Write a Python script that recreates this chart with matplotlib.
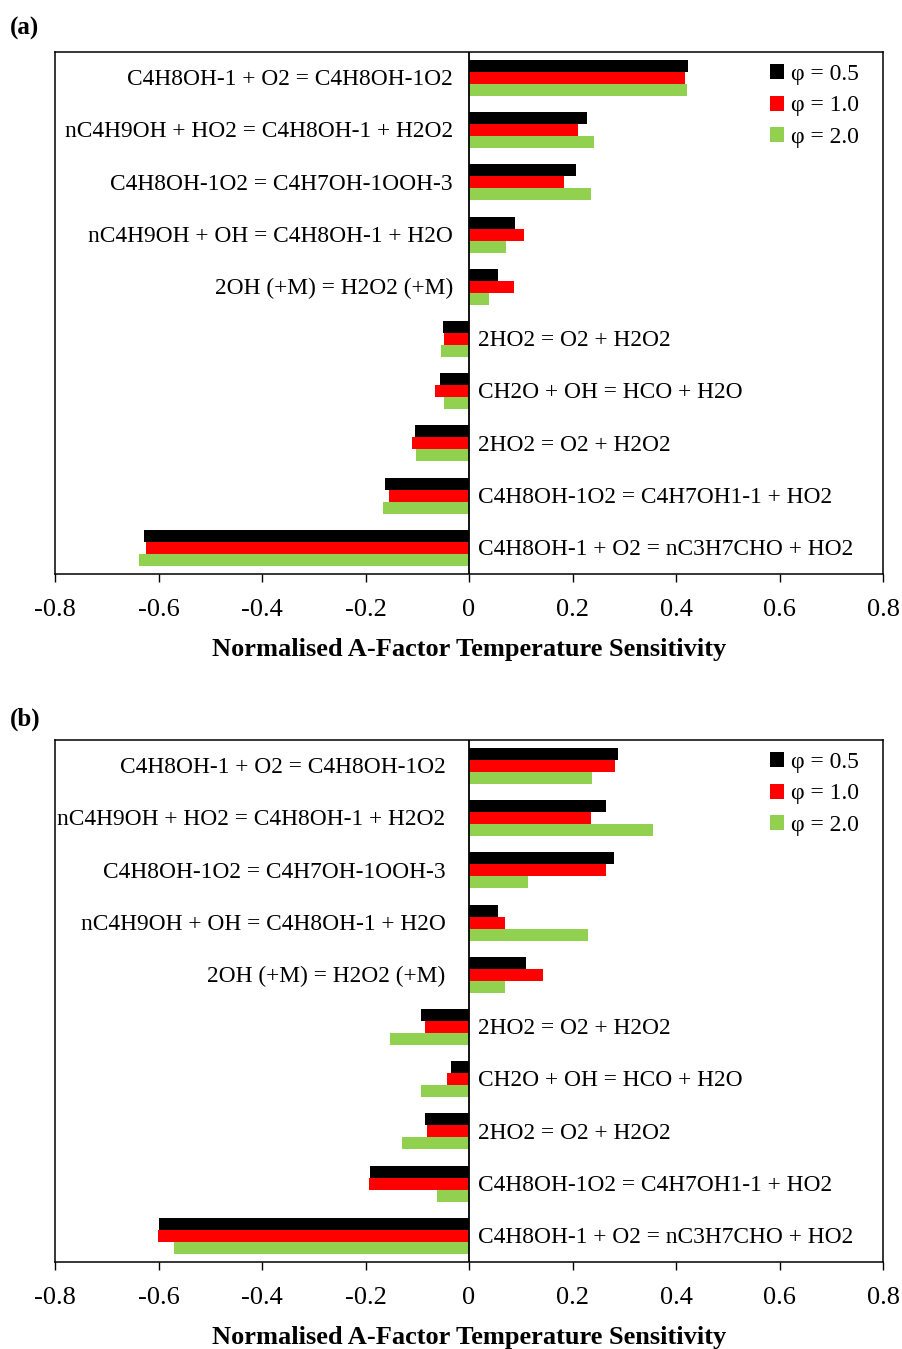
"""Normalised A-factor temperature sensitivity, two panels (a) and (b)."""
import matplotlib
matplotlib.use("Agg")
import matplotlib.pyplot as plt
import numpy as np

plt.rcParams["font.family"] = ["Liberation Serif", "DejaVu Serif"]

REACTIONS = [
    "C4H8OH-1 + O2 = C4H8OH-1O2",
    "nC4H9OH + HO2 = C4H8OH-1 + H2O2",
    "C4H8OH-1O2 = C4H7OH-1OOH-3",
    "nC4H9OH + OH = C4H8OH-1 + H2O",
    "2OH (+M) = H2O2 (+M)",
    "2HO2 = O2 + H2O2",
    "CH2O + OH = HCO + H2O",
    "2HO2 = O2 + H2O2",
    "C4H8OH-1O2 = C4H7OH1-1 + HO2",
    "C4H8OH-1 + O2 = nC3H7CHO + HO2",
]
SERIES = ["φ = 0.5", "φ = 1.0", "φ = 2.0"]

# panel (a)
a_phi05 = [0.424, 0.227, 0.207, 0.088, 0.055, -0.051, -0.057, -0.104, -0.162, -0.629]
a_phi10 = [0.417, 0.211, 0.184, 0.106, 0.086, -0.048, -0.066, -0.110, -0.155, -0.624]
a_phi20 = [0.421, 0.242, 0.236, 0.071, 0.039, -0.055, -0.048, -0.102, -0.166, -0.637]

# panel (b)
b_phi05 = [0.287, 0.264, 0.280, 0.056, 0.110, -0.093, -0.034, -0.085, -0.191, -0.600]
b_phi10 = [0.283, 0.236, 0.264, 0.070, 0.143, -0.086, -0.043, -0.082, -0.193, -0.601]
b_phi20 = [0.238, 0.356, 0.113, 0.230, 0.070, -0.153, -0.093, -0.130, -0.061, -0.571]

COLORS = ["#000000", "#FF0000", "#92D050"]
FS = 16.8
BAR_H = 0.23

fig = plt.figure(figsize=(9.02, 13.49), dpi=100)
panels = [
    ("(a)", [a_phi05, a_phi10, a_phi20], [0.061, 0.5745, 0.918, 0.387], 0.979, -11.5),
    ("(b)", [b_phi05, b_phi10, b_phi20], [0.061, 0.0645, 0.918, 0.387], 0.4665, -17),
]

for tag, series, rect, tag_y, off in panels:
    ax = fig.add_axes(rect)
    y = np.arange(len(REACTIONS))
    for i, (vals, c, name) in enumerate(zip(series, COLORS, SERIES)):
        ax.barh(y + (i - 1) * BAR_H, vals, height=BAR_H, color=c, label=name)
    ax.axvline(0, color="black", lw=1.3)
    ax.set_xlim(-0.8, 0.8)
    ax.set_ylim(len(REACTIONS) - 0.5, -0.5)
    ax.set_yticks([])
    ax.set_xticks(np.arange(-0.8, 0.81, 0.2))
    ax.set_xticklabels(["-0.8", "-0.6", "-0.4", "-0.2", "0", "0.2", "0.4", "0.6", "0.8"],
                       fontsize=19)
    ax.tick_params(axis="x", direction="out", length=6, width=1, pad=12)
    for s in ax.spines.values():
        s.set_linewidth(1.1)

    # reaction labels sit beside the zero line, opposite the bars
    for k, name in enumerate(REACTIONS):
        if series[0][k] >= 0:
            ax.annotate(name, (0, k), xytext=(off, -1.2), textcoords="offset points",
                        ha="right", va="center", fontsize=FS)
        else:
            ax.annotate(name, (0, k), xytext=(6.5, -1.2), textcoords="offset points",
                        ha="left", va="center", fontsize=FS)

    ax.set_xlabel("Normalised A-Factor Temperature Sensitivity", fontsize=19,
                  fontweight="bold", labelpad=12)
    ax.legend(loc="upper right", frameon=False, fontsize=17, handlelength=0.6,
              handleheight=0.6, handletextpad=0.3, labelspacing=0.45,
              bbox_to_anchor=(0.997, 1.018))
    fig.text(0.011, tag_y, tag, fontsize=18, fontweight="bold", va="center")

fig.savefig("out.png", dpi=100)
